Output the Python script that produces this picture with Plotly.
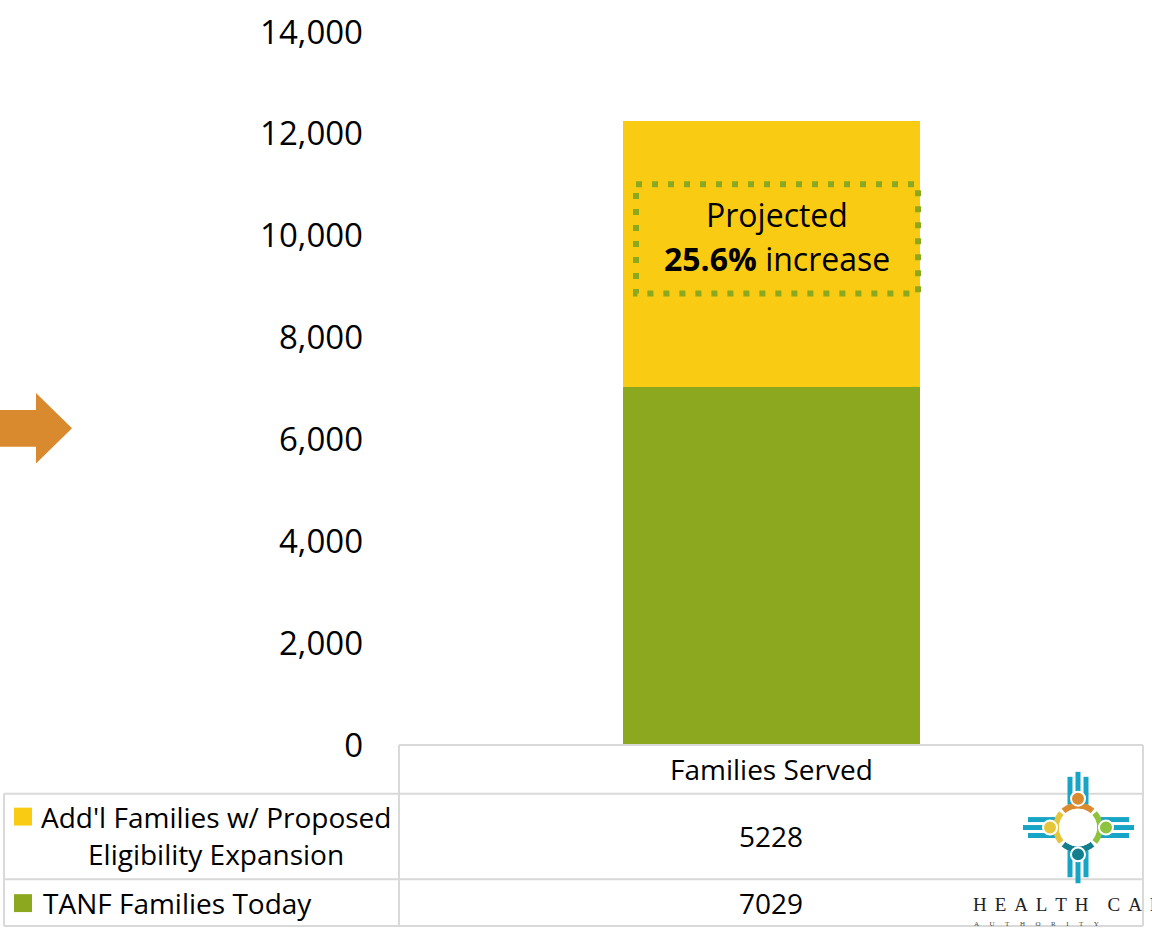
import numpy as np
import plotly.graph_objects as go

# ---------------- data ----------------
categories = ["Families Served"]
series_names = ["TANF Families Today", "Add'l Families w/ Proposed Eligibility Expansion"]
tanf_today = [7029]
addl_families = [5228]
y_ticks = [0, 2000, 4000, 6000, 8000, 10000, 12000, 14000]
box_line1 = "Projected"
box_line2 = "<b>25.6%</b> increase"

YELLOW = "#F9CC13"
GREEN = "#8BA81F"
ORANGE = "#DA8A2E"
GRID = "#D9D9D9"
LOGO_BLUE = "#17A5C5"
FONT = "Open Sans"

W, H = 1152, 931
L_M, R_M, T_M, B_M = 400, 9, 28, 186
PW = W - L_M - R_M
PH = H - T_M - B_M


def px(x):
    return (x - L_M) / PW


def py(y):
    return (H - B_M - y) / PH


fig = go.Figure()
fig.add_trace(go.Bar(x=categories, y=tanf_today, name=series_names[0],
                     marker=dict(color=GREEN, line=dict(width=0))))
fig.add_trace(go.Bar(x=categories, y=addl_families, name=series_names[1],
                     marker=dict(color=YELLOW, line=dict(width=0))))

shapes = []
annotations = []


def hline(x0, x1, y, color=GRID, w=2):
    shapes.append(dict(type="line", xref="paper", yref="paper",
                       x0=px(x0), x1=px(x1), y0=py(y), y1=py(y),
                       line=dict(color=color, width=w)))


def vline(x, y0, y1, color=GRID, w=2):
    shapes.append(dict(type="line", xref="paper", yref="paper",
                       x0=px(x), x1=px(x), y0=py(y0), y1=py(y1),
                       line=dict(color=color, width=w)))


def text(x, y, s, size=28, xanchor="center", color="black", family=FONT):
    annotations.append(dict(x=px(x), y=py(y), xref="paper", yref="paper",
                            text=s, showarrow=False, xanchor=xanchor, yanchor="middle",
                            font=dict(family=family, size=size, color=color)))


# ---- data table ----
hline(399, 1143, 745)
hline(4, 1143, 794)
hline(4, 1143, 880)
hline(4, 1143, 927)
vline(4, 794, 927)
vline(399, 745, 927)
vline(1143, 745, 927)

text(771, 769, categories[0])
text(771, 837, str(addl_families[0]))
text(771, 904, str(tanf_today[0]))
text(216, 817, "Add'l Families w/ Proposed")
text(216, 855, "Eligibility Expansion")
text(41, 904, series_names[0], xanchor="left")

for (y0, y1, c) in [(808, 826, YELLOW), (895, 913, GREEN)]:
    shapes.append(dict(type="rect", xref="paper", yref="paper",
                       x0=px(14), x1=px(32), y0=py(y0), y1=py(y1),
                       fillcolor=c, line=dict(width=0)))

# ---- dotted annotation box ----
shapes.append(dict(type="rect", xref="paper", yref="paper",
                   x0=px(636), x1=px(918), y0=py(181), y1=py(291),
                   fillcolor="rgba(0,0,0,0)",
                   line=dict(color=GREEN, width=6, dash="6px,10px")))
text(777, 212, box_line1, size=32)
text(777, 256, box_line2, size=32)

# ---- orange arrow ----
pts = [(-5, 408), (36, 408), (36, 391), (72, 426.5), (36, 462), (36, 445), (-5, 445)]
path = "M " + " L ".join(f"{px(a)},{py(b)}" for a, b in pts) + " Z"
shapes.append(dict(type="path", xref="paper", yref="paper", path=path,
                   fillcolor=ORANGE, line=dict(width=0)))

# ---- logo ----
cx, cy = 1078, 828
for dx, ys in [(0, (772, 797)), (-8, (777, 805)), (8, (777, 805))]:
    vline(cx + dx, ys[0], ys[1], LOGO_BLUE, 5)
for dx, ys in [(0, (860, 884)), (-8, (851, 878)), (8, (851, 878))]:
    vline(cx + dx, ys[0], ys[1], LOGO_BLUE, 5)
for dy, xs in [(0, (1023, 1048)), (-8, (1028, 1056)), (8, (1028, 1056))]:
    hline(xs[0], xs[1], cy + dy, LOGO_BLUE, 5)
for dy, xs in [(0, (1108, 1134)), (-8, (1100, 1129)), (8, (1100, 1129))]:
    hline(xs[0], xs[1], cy + dy, LOGO_BLUE, 5)

R = 22
arc_cols = [("#DC8A2E", 90), ("#8DC33F", 0), ("#137F8D", 270), ("#E7C53A", 180)]
for col, mid in arc_cols:
    th = np.radians(np.linspace(mid - 41, mid + 41, 24))
    xs = cx + R * np.cos(th)
    ys = cy - R * np.sin(th)
    p = "M " + " L ".join(f"{px(a)},{py(b)}" for a, b in zip(xs, ys))
    shapes.append(dict(type="path", xref="paper", yref="paper", path=p,
                       line=dict(color=col, width=6)))
shapes.append(dict(type="circle", xref="paper", yref="paper",
                   x0=px(cx - 19), x1=px(cx + 19), y0=py(cy - 19), y1=py(cy + 19),
                   fillcolor="white", line=dict(width=0)))
for col, (ddx, ddy) in [("#DC8A2E", (0, -29)), ("#8DC33F", (28, 0)),
                        ("#137F8D", (0, 27)), ("#E7C53A", (-28, 0))]:
    shapes.append(dict(type="circle", xref="paper", yref="paper",
                       x0=px(cx + ddx - 7), x1=px(cx + ddx + 7),
                       y0=py(cy + ddy - 7), y1=py(cy + ddy + 7),
                       fillcolor=col, line=dict(color="white", width=2)))

gap = "\u2004\u200A"
word_gap = "\u2002\u2002"
health = gap.join("HEALTH") + word_gap + gap.join("CARE")
text(971, 905, health, size=19, xanchor="left", color="#222222", family="Liberation Serif")
text(972, 925, "\u2003\u2002".join("AUTHORITY"),
     size=7, xanchor="left", color="#444444", family="Liberation Serif")

fig.update_layout(
    width=W, height=H,
    margin=dict(l=L_M, r=R_M, t=T_M, b=B_M, pad=0),
    paper_bgcolor="white", plot_bgcolor="white",
    barmode="stack", bargap=0.6,
    showlegend=False,
    font=dict(family=FONT, color="black"),
    shapes=shapes, annotations=annotations,
    xaxis=dict(showticklabels=False, showgrid=False, zeroline=False,
               showline=False, ticks="", fixedrange=True),
    yaxis=dict(range=[0, 14000], tickvals=y_ticks, tickformat=",",
               showgrid=False, zeroline=False, showline=False, ticks="",
               ticklabelstandoff=36,
               tickfont=dict(family=FONT, size=33, color="black")),
)

fig.write_html("out.html", config={"displayModeBar": False},
               post_script="document.body.style.margin='0';document.body.style.overflow='hidden';")
